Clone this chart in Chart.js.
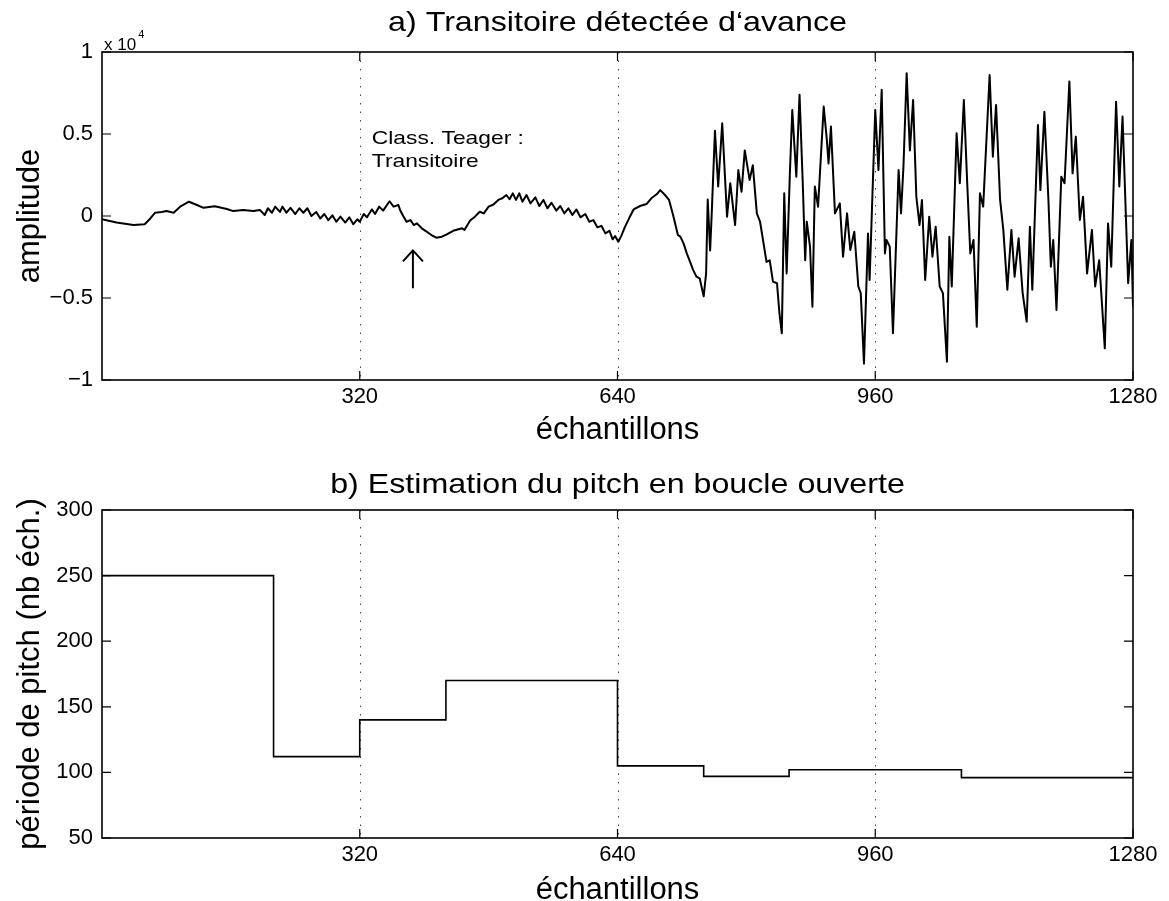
<!DOCTYPE html>
<html lang="fr">
<head>
<meta charset="utf-8">
<title>Transitoire et pitch</title>
<script src="https://cdn.jsdelivr.net/npm/chart.js@4.4.1/dist/chart.umd.min.js"></script>
<style>
  html, body { margin: 0; padding: 0; background: #fff; }
  body { width: 1169px; height: 901px; position: relative; overflow: hidden; }
  canvas { position: absolute; left: 0; }
  #waveChart { top: 0; }
  #pitchChart { top: 452px; }
</style>
</head>
<body>
<canvas id="waveChart" width="1169" height="452"></canvas>
<canvas id="pitchChart" width="1169" height="460"></canvas>
<script>
const FONT = "'Liberation Sans', Arial, Helvetica, sans-serif";

// a) signal : indices d'échantillons et amplitude brute
const waveSamples = [
  0, 18, 39, 53, 60, 66, 74, 80, 89, 97, 108, 118, 126, 140, 155, 163, 175, 188, 196, 202,
  206, 211, 215, 221, 224, 229, 234, 240, 245, 250, 255, 260, 266, 271, 276, 281, 286, 291, 296, 302,
  307, 312, 317, 320, 325, 329, 335, 339, 344, 349, 357, 362, 368, 370, 374, 378, 383, 387, 391, 397,
  403, 409, 415, 422, 428, 436, 447, 450, 457, 463, 469, 474, 480, 486, 492, 497, 502, 506, 510, 514,
  518, 522, 527, 532, 538, 543, 548, 553, 558, 564, 569, 574, 579, 584, 589, 594, 600, 605, 610, 615,
  620, 625, 630, 634, 637, 641, 645, 649, 655, 660, 668, 676, 682, 689, 693, 699, 704, 709, 715, 718,
  722, 726, 730, 734, 738, 742, 747, 750, 752, 755, 757, 761, 765, 770, 776, 780, 786, 790, 794, 798,
  804, 808, 813, 817, 825, 829, 833, 838, 841, 844, 847, 850, 854, 857, 860, 862, 866, 870, 873, 875,
  879, 882, 885, 889, 896, 900, 902, 905, 910, 916, 920, 925, 929, 934, 939, 942, 946, 951, 953, 960,
  964, 968, 972, 974, 978, 982, 989, 992, 995, 999, 1003, 1007, 1011, 1015, 1018, 1022, 1027, 1031, 1035, 1040,
  1044, 1049, 1052, 1055, 1061, 1065, 1070, 1074, 1078, 1082, 1086, 1090, 1094, 1102, 1106, 1110, 1115, 1119, 1124, 1129,
  1133, 1138, 1143, 1148, 1152, 1155, 1162, 1165, 1170, 1175, 1178, 1181, 1185, 1191, 1195, 1201, 1205, 1209, 1214, 1218,
  1223, 1229, 1233, 1238, 1245, 1249, 1253, 1259, 1263, 1267, 1274, 1278, 1280
];
const waveAmplitude = [
  -200, -400, -550, -500, -150, 200, 250, 300, 200, 570, 870, 670, 500, 600, 430, 300, 370, 300, 370, 60,
  470, 200, 570, 250, 570, 200, 500, 120, 470, 200, 470, 0, 250, -150, 120, -250, 40, -350, -40, -400,
  -80, -500, -200, -350, 120, -80, 400, 120, 570, 330, 900, 570, 670, 370, 0, -350, -250, -550, -450, -750,
  -950, -1160, -1320, -1260, -1120, -900, -750, -850, -280, -40, 260, 160, 570, 700, 980, 1080, 1280, 1020, 1380, 980,
  1380, 870, 1280, 770, 1140, 610, 980, 470, 810, 330, 610, 160, 470, 60, 400, -80, 120, -350, -250, -690,
  -600, -1060, -900, -1420, -1220, -1570, -1180, -690, -80, 400, 610, 730, 1080, 1340, 1580, 1280, 980, 60, -1160, -1260,
  -1670, -2280, -2780, -3300, -3700, -3800, -4900, -3500, 1000, -2100, 160, 5200, 1800, 5650, -40, 2000, -550, 2800, 1480, 4000,
  2200, 3100, 160, -350, -2800, -2700, -4000, -4100, -5900, -7150, 1380, -3500, 2600, 6460, 4000, 2400, 7400, 2000, -2700, -350,
  -1870, -5530, 1800, 570, 6670, 4600, 3200, 5450, 160, 770, -2480, 160, -2070, -960, -4300, -4700, -9000, -1060, -3900, 6460,
  2800, 7700, -2280, -1460, -1870, -7150, 2800, 160, 3000, 8700, 4000, 7070, 1180, -550, 980, -3900, -40, -2480, -650, -4300,
  -4700, -8880, -1260, -4300, 5040, 2000, 7070, 2200, -2280, -1460, -6750, 1380, 570, 8600, 3620, 6770, 980, -850, -4500, -850,
  -3700, -1360, -4700, -6440, -650, -4500, 5550, 1580, 6360, 980, -3090, -1460, -5730, 2400, 2000, 8200, 2600, 4840, -240, 1180,
  -3500, -850, -4300, -2700, -8070, -450, -3090, 6970, 1800, 6060, -4100, -1460, -5500
];
const ampScale = 1e4;
const ampTicks = [-10000, -5000, 0, 5000, 10000];
const sampleTicks = [320, 640, 960, 1280];

// annotation du classifieur de Teager
const noteAt = [335, 4700];
const arrowAt = 386;
const arrowFrom = -4400;
const arrowTo = -2100;

// b) période de pitch estimée par trame (début de trame, valeur)
const frameStarts = [0, 213, 320, 427, 640, 747, 853, 1067];
const pitchPeriod = [250, 112, 140, 170, 105, 97, 102, 96];
const pitchTicks = [50, 100, 150, 200, 250, 300];

const fmtNum = v => String(v).replace('-', '\u2212');

// texte un peu élargi horizontalement, comme la police d'origine
function wideText(ctx, text, x, y, align, sx) {
  ctx.save();
  ctx.translate(x, y);
  ctx.scale(sx, 1);
  ctx.textAlign = align;
  ctx.fillText(text, 0, 0);
  ctx.restore();
}

// cadre façon matlab : boîte, graduations vers l'intérieur, grille pointillée verticale, titre
function axesFrame(title, titleGap) {
  return {
    id: 'axesFrame',
    beforeDatasetsDraw(chart) {
      const { ctx, chartArea: a, scales: { x } } = chart;
      ctx.save();
      ctx.strokeStyle = '#444';
      ctx.lineWidth = 1;
      ctx.setLineDash([1.5, 7]);
      x.ticks.forEach(t => {
        if (t.value >= x.max) return;
        const px = Math.round(x.getPixelForValue(t.value)) + 0.5;
        ctx.beginPath();
        ctx.moveTo(px, a.top);
        ctx.lineTo(px, a.bottom);
        ctx.stroke();
      });
      ctx.restore();
    },
    afterDraw(chart) {
      const { ctx, chartArea: a, scales: { x, y } } = chart;
      const tl = 9;
      ctx.save();
      ctx.strokeStyle = '#000';
      ctx.lineWidth = 1.6;
      ctx.strokeRect(a.left, a.top, a.right - a.left, a.bottom - a.top);
      ctx.lineWidth = 1.2;
      ctx.beginPath();
      x.ticks.forEach(t => {
        const px = x.getPixelForValue(t.value);
        ctx.moveTo(px, a.bottom); ctx.lineTo(px, a.bottom - tl);
        ctx.moveTo(px, a.top); ctx.lineTo(px, a.top + tl);
      });
      y.ticks.forEach(t => {
        const py = y.getPixelForValue(t.value);
        ctx.moveTo(a.left, py); ctx.lineTo(a.left + tl, py);
        ctx.moveTo(a.right, py); ctx.lineTo(a.right - tl, py);
      });
      ctx.stroke();
      ctx.fillStyle = '#000';
      ctx.font = '28px ' + FONT;
      ctx.textBaseline = 'middle';
      wideText(ctx, title, (a.left + a.right) / 2, a.top - titleGap, 'center', 1.15);
      ctx.restore();
    }
  };
}

const teagerNote = {
  id: 'teagerNote',
  afterDraw(chart) {
    const { ctx, chartArea: a, scales: { x, y } } = chart;
    ctx.save();
    ctx.fillStyle = '#000';
    ctx.strokeStyle = '#000';
    ctx.textBaseline = 'middle';
    ctx.font = '19px ' + FONT;
    const nx = x.getPixelForValue(noteAt[0]);
    const ny = y.getPixelForValue(noteAt[1]);
    wideText(ctx, 'Class. Teager :', nx, ny, 'left', 1.2);
    wideText(ctx, 'Transitoire', nx, ny + 23, 'left', 1.2);

    // flèche vers le haut
    const ax = x.getPixelForValue(arrowAt);
    const y0 = y.getPixelForValue(arrowFrom);
    const y1 = y.getPixelForValue(arrowTo);
    ctx.lineWidth = 2;
    ctx.beginPath();
    ctx.moveTo(ax, y0); ctx.lineTo(ax, y1);
    ctx.moveTo(ax - 10, y1 + 11); ctx.lineTo(ax, y1); ctx.lineTo(ax + 10, y1 + 11);
    ctx.stroke();

    // facteur d'échelle de l'axe y
    ctx.font = '17px ' + FONT;
    ctx.textAlign = 'left';
    ctx.fillText('x 10', a.left + 2, a.top - 7);
    const w = ctx.measureText('x 10').width;
    ctx.font = '11px ' + FONT;
    ctx.fillText('4', a.left + 4 + w, a.top - 17);
    ctx.restore();
  }
};

function xScale(height) {
  return {
    type: 'linear', min: 0, max: 1280,
    grid: { display: false, drawTicks: false },
    border: { display: false },
    afterBuildTicks: s => { s.ticks = sampleTicks.map(v => ({ value: v })); },
    afterFit: s => { s.height = height; },
    ticks: {
      color: '#000', padding: 4, maxRotation: 0, autoSkip: false,
      font: { family: FONT, size: 22 },
      callback: v => String(v)
    },
    title: {
      display: true, text: 'échantillons', color: '#000',
      font: { family: FONT, size: 31 }, padding: { top: 0, bottom: 3 }
    }
  };
}

function yScale(min, max, ticks, label, fmt) {
  return {
    min, max,
    grid: { display: false, drawTicks: false },
    border: { display: false },
    afterBuildTicks: s => { s.ticks = ticks.map(v => ({ value: v })); },
    afterFit: s => { s.width = 102; },
    ticks: {
      color: '#000', padding: 9, autoSkip: false,
      font: { family: FONT, size: 22 },
      callback: fmt
    },
    title: {
      display: true, text: label, color: '#000',
      font: { family: FONT, size: 31 }, padding: { top: 12, bottom: 0 }
    }
  };
}

const common = {
  responsive: false,
  animation: false,
  devicePixelRatio: 1,
  events: [],
  plugins: { legend: { display: false }, tooltip: { enabled: false } }
};

new Chart(document.getElementById('waveChart'), {
  type: 'line',
  data: {
    datasets: [{
      data: waveSamples.map((s, i) => ({ x: s, y: waveAmplitude[i] })),
      borderColor: '#000', borderWidth: 2, pointRadius: 0, tension: 0,
      borderJoinStyle: 'round', borderCapStyle: 'round', fill: false
    }]
  },
  options: {
    ...common,
    layout: { padding: { top: 52, right: 36, left: 0, bottom: 0 } },
    scales: {
      x: xScale(72),
      y: yScale(-ampScale, ampScale, ampTicks, 'amplitude', v => fmtNum(v / ampScale))
    }
  },
  plugins: [axesFrame('a) Transitoire détectée d\u2018avance', 29), teagerNote]
});

// chaque trame garde sa valeur jusqu'au début de la suivante
const pitchPoints = frameStarts.map((s, i) => ({ x: s, y: pitchPeriod[i] }));
pitchPoints.push({ x: 1280, y: pitchPeriod[pitchPeriod.length - 1] });

new Chart(document.getElementById('pitchChart'), {
  type: 'line',
  data: {
    datasets: [{
      data: pitchPoints,
      stepped: 'before',
      borderColor: '#000', borderWidth: 1.6, pointRadius: 0, fill: false
    }]
  },
  options: {
    ...common,
    layout: { padding: { top: 58, right: 36, left: 0, bottom: 0 } },
    scales: {
      x: xScale(74),
      y: yScale(50, 300, pitchTicks, 'période de pitch (nb éch.)', v => fmtNum(v))
    }
  },
  plugins: [axesFrame('b) Estimation du pitch en boucle ouverte', 25)]
});
</script>
</body>
</html>
